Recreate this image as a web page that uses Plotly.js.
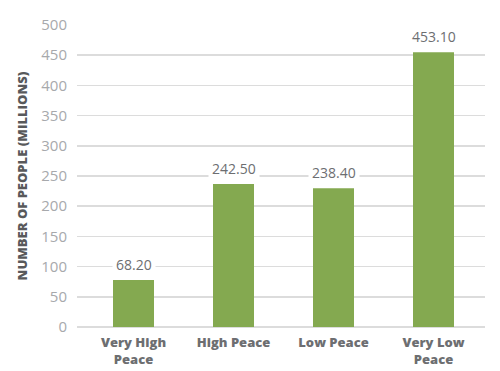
<!DOCTYPE html>
<html>
<head>
<meta charset="utf-8">
<script src="https://cdn.plot.ly/plotly-3.0.1.min.js"></script>
<style>html,body{margin:0;padding:0;background:#fff}#chart{width:500px;height:371px}</style>
</head>
<body>
<div id="chart"></div>
<script>
var categories = ["Very High<br>Peace", "High Peace", "Low Peace", "Very Low<br>Peace"];
var values = [77.8, 236.8, 229.6, 455.0];
var valueLabels = ["68.20", "242.50", "238.40", "453.10"];
var yTicks = [0, 50, 100, 150, 200, 250, 300, 350, 400, 450, 500];

var trace = {
  type: "bar",
  x: categories,
  y: values,
  marker: {color: "#84a950"},
  width: 0.41,
  hoverinfo: "none"
};

var annotations = categories.map(function (c, i) {
  return {
    x: c, y: values[i], xref: "x", yref: "y",
    text: valueLabels[i], showarrow: false,
    yanchor: "bottom", yshift: 2,
    bgcolor: "#ffffff", borderpad: 3,
    font: {family: "Open Sans, sans-serif", size: 14, color: "#6d6e71"}
  };
});

var layout = {
  width: 500, height: 371,
  margin: {l: 77, r: 15, t: 25, b: 44},
  paper_bgcolor: "#ffffff", plot_bgcolor: "#ffffff",
  showlegend: false,
  bargap: 0.59,
  xaxis: {
    type: "category",
    range: [-0.565, 3.515],
    showgrid: false, zeroline: false, showline: false,
    ticks: "",
    ticklabelstandoff: 6,
    tickfont: {family: "Open Sans, sans-serif", size: 13, color: "#6d6e71", weight: 800}
  },
  yaxis: {
    range: [0, 500],
    tickvals: yTicks,
    ticktext: yTicks.map(String),
    showgrid: true, gridcolor: "#dcdcdc", gridwidth: 1.5,
    zeroline: true, zerolinecolor: "#dcdcdc", zerolinewidth: 1.5,
    showline: false, ticks: "",
    ticklabelstandoff: 9,
    tickfont: {family: "Open Sans, sans-serif", size: 15, color: "#a7a9ac"},
    title: {
      text: "NUMBER OF PEOPLE (MILLIONS)",
      standoff: 10,
      font: {family: "Open Sans, sans-serif", size: 13, color: "#58595b", weight: 800}
    }
  },
  annotations: annotations
};

Plotly.newPlot("chart", [trace], layout, {displayModeBar: false, staticPlot: true});
</script>
</body>
</html>
